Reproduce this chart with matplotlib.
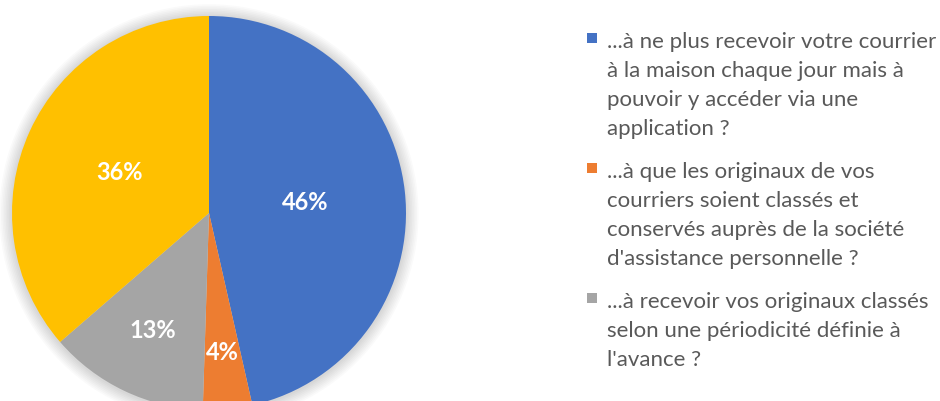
import matplotlib
matplotlib.use('Agg')
import matplotlib.pyplot as plt
from matplotlib.patches import Rectangle, Circle
import numpy as np

# data
values = [46, 4, 13, 36]
pct_labels = ['46%', '4%', '13%', '36%']
colors = ['#4472C4', '#ED7D31', '#A5A5A5', '#FFC000']
legend_labels = [
    '...à ne plus recevoir votre courrier\nà la maison chaque jour mais à\npouvoir y accéder via une\napplication ?',
    '...à que les originaux de vos\ncourriers soient classés et\nconservés auprès de la société\nd\'assistance personnelle ?',
    '...à recevoir vos originaux classés\nselon une périodicité définie à\nl\'avance ?',
]
label_dist = [0.49, 0.71, 0.66, 0.50]

W, H = 940, 401
plt.rcParams['font.family'] = ['Lato', 'DejaVu Sans']

fig = plt.figure(figsize=(W / 100, H / 100), dpi=100)
fig.patch.set_facecolor('white')

# pie: centre (209, 213) px from top-left, radius 197 px
cx, cy, r = 209, 213, 197
ax = fig.add_axes([(cx - r) / W, (H - cy - r) / H, 2 * r / W, 2 * r / H])
ax.set_xlim(-1, 1)
ax.set_ylim(-1, 1)
ax.axis('off')

# soft shadow around the pie
for k in range(1, 9):
    ax.add_patch(Circle((0, -0.004), 1 + k * 0.008, color='black', alpha=0.018,
                        lw=0, zorder=0, clip_on=False))

wedges, _ = ax.pie(values, colors=colors, startangle=90, counterclock=False,
                   radius=1, wedgeprops=dict(linewidth=0), frame=False)
ax.set_xlim(-1, 1)
ax.set_ylim(-1, 1)

for w, lab, d in zip(wedges, pct_labels, label_dist):
    a = np.deg2rad((w.theta1 + w.theta2) / 2)
    ax.text(d * np.cos(a), d * np.sin(a), lab, ha='center', va='center',
            color='white', fontsize=17, fontweight='bold', zorder=5)

# legend, drawn line by line
def fx(x):
    return x / W

def fy(y):
    return 1 - y / H

base = 48
step = 29
for lab, col in zip(legend_labels, colors):
    lines = lab.split('\n')
    fig.add_artist(Rectangle((fx(587), fy(base - 5)), 10 / W, 10 / H,
                             transform=fig.transFigure, color=col, lw=0))
    for i, line in enumerate(lines):
        fig.text(fx(607), fy(base + i * step), line, ha='left', va='baseline',
                 color='#595959', fontsize=16)
    base += len(lines) * step + 14

fig.savefig('out.png', dpi=100)
